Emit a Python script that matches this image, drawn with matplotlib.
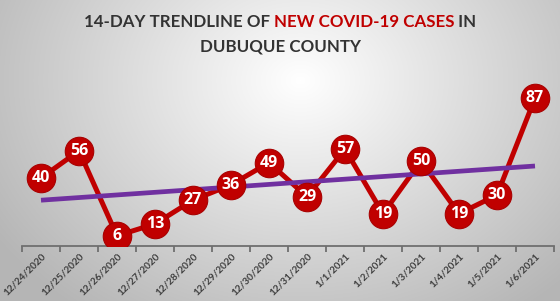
import numpy as np
import matplotlib
matplotlib.use("Agg")
import matplotlib.pyplot as plt

dates = ["12/24/2020", "12/25/2020", "12/26/2020", "12/27/2020", "12/28/2020",
         "12/29/2020", "12/30/2020", "12/31/2020", "1/1/2021", "1/2/2021",
         "1/3/2021", "1/4/2021", "1/5/2021", "1/6/2021"]
cases = [40, 56, 6, 13, 27, 36, 49, 29, 57, 19, 50, 19, 30, 87]

W, H = 560, 301
fig = plt.figure(figsize=(W / 100, H / 100), dpi=100)

# radial gradient background
bg = fig.add_axes([0, 0, 1, 1], zorder=-10)
yy, xx = np.mgrid[0:H, 0:W]
cx, cy = 300, 80
r = np.sqrt(((xx - cx) / 290.0) ** 2 + ((yy - cy) / 230.0) ** 2)
val = 1.0 - 0.23 * np.clip(r, 0, 1.25) ** 1.0
img = np.dstack([val, val, val])
bg.imshow(img, extent=[0, W, H, 0], aspect="auto", interpolation="bilinear")
bg.set_axis_off()

ax = fig.add_axes([22 / W, 55 / H, 532 / W, 170 / H])
ax.set_facecolor("none")
x = np.arange(len(cases))

red = "#c00000"
ax.plot(x, cases, color=red, lw=3.6, zorder=3, solid_capstyle="round")
ax.plot(x, cases, "o", ms=20.5, mfc=red, mec="#a80000", mew=0.8, zorder=4)
for xi, v in zip(x, cases):
    ax.text(xi, v, str(v), ha="center", va="center", color="white",
            fontsize=11.5, fontweight="bold", family="Open Sans", zorder=5)

coef = np.polyfit(x, cases, 1)
ax.plot(x, np.polyval(coef, x), color="#7030a0", lw=3.4, zorder=3.5,
        solid_capstyle="butt")

ax.set_xlim(-0.5, len(cases) - 0.5)
ax.set_ylim(0, 100)
for s in ["top", "right", "left"]:
    ax.spines[s].set_visible(False)
ax.spines["bottom"].set_color("#6f6f6f")
ax.spines["bottom"].set_linewidth(1.3)
ax.set_yticks([])
ax.set_xticks(x)
ax.set_xticklabels(dates, rotation=45, ha="right", rotation_mode="anchor",
                   fontsize=7.2, fontweight="bold", color="#404040",
                   family="Lato")
ax.tick_params(axis="x", which="major", length=0, pad=4)
ax.set_xticks(np.arange(-0.5, len(cases), 1.0), minor=True)
ax.tick_params(axis="x", which="minor", length=4, width=1.3, color="#6f6f6f",
               direction="out")

# multi-colour title
parts = [("14-DAY TRENDLINE OF ", "#333333"), ("NEW COVID-19 CASES", red),
         (" IN", "#333333")]
fs = 12.2
fam = "Lato"
fw = "bold"
fig.canvas.draw()
renderer = fig.canvas.get_renderer()
widths = []
tmp = []
for s, c in parts:
    t = fig.text(0, 0, s, fontsize=fs, family=fam, color=c, fontweight=fw)
    bb = t.get_window_extent(renderer)
    widths.append(bb.width)
    tmp.append(t)
total = sum(widths)
xstart = (W - total) / 2
y1 = 1 - 22 / H
xp = xstart
for t, w in zip(tmp, widths):
    t.set_position((xp / W, y1))
    t.set_va("center")
    xp += w
fig.text(0.5, 1 - 46 / H, "DUBUQUE COUNTY", fontsize=fs, family=fam,
         color="#333333", ha="center", va="center", fontweight=fw)

fig.savefig("out.png", dpi=100)
